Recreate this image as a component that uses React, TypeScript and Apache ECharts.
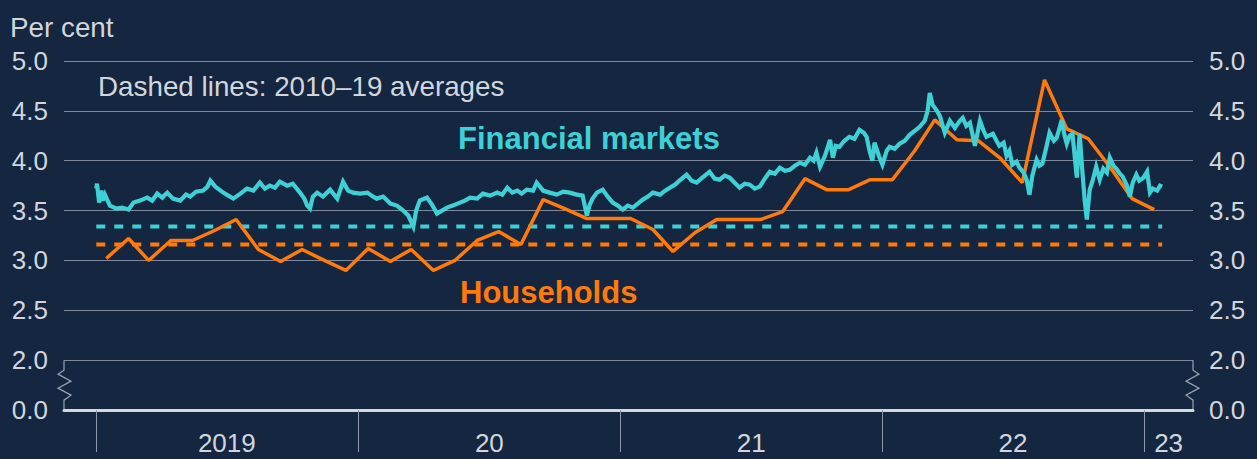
import React, { useEffect, useRef } from "react";
import * as echarts from "echarts";

// ---- Data ----
const financialMarkets: [string, number][] = [
  ["2019-01-01", 3.72], ["2019-01-02", 3.77], ["2019-01-05", 3.58], ["2019-01-08", 3.70], ["2019-01-10", 3.60],
  ["2019-01-13", 3.66], ["2019-01-20", 3.55], ["2019-01-29", 3.52], ["2019-02-06", 3.53], ["2019-02-15", 3.51],
  ["2019-02-22", 3.58], ["2019-03-03", 3.60], ["2019-03-13", 3.63], ["2019-03-20", 3.60], ["2019-03-27", 3.67],
  ["2019-04-03", 3.63], ["2019-04-10", 3.68], ["2019-04-18", 3.62], ["2019-04-28", 3.60], ["2019-05-06", 3.66],
  ["2019-05-12", 3.64], ["2019-05-20", 3.69], ["2019-05-30", 3.70], ["2019-06-05", 3.74], ["2019-06-09", 3.80],
  ["2019-06-16", 3.74], ["2019-06-27", 3.68], ["2019-07-04", 3.65], ["2019-07-11", 3.62], ["2019-07-21", 3.67],
  ["2019-07-30", 3.72], ["2019-08-08", 3.70], ["2019-08-17", 3.78], ["2019-08-24", 3.72], ["2019-08-31", 3.75],
  ["2019-09-07", 3.73], ["2019-09-14", 3.79], ["2019-09-24", 3.75], ["2019-10-02", 3.77], ["2019-10-12", 3.68],
  ["2019-10-18", 3.62], ["2019-10-22", 3.55], ["2019-10-26", 3.52], ["2019-10-30", 3.64], ["2019-11-05", 3.68],
  ["2019-11-13", 3.64], ["2019-11-23", 3.71], ["2019-12-03", 3.62], ["2019-12-11", 3.79], ["2019-12-18", 3.70],
  ["2019-12-25", 3.68],
  ["2020-01-04", 3.67], ["2020-01-14", 3.68], ["2020-01-22", 3.64], ["2020-01-27", 3.62], ["2020-02-05", 3.64],
  ["2020-02-15", 3.57], ["2020-02-24", 3.55], ["2020-03-04", 3.50], ["2020-03-11", 3.45], ["2020-03-18", 3.34],
  ["2020-03-22", 3.50], ["2020-03-27", 3.60], ["2020-04-06", 3.63], ["2020-04-13", 3.56], ["2020-04-20", 3.47],
  ["2020-04-27", 3.50], ["2020-05-04", 3.53], ["2020-05-12", 3.55], ["2020-05-22", 3.58], ["2020-05-29", 3.60],
  ["2020-06-05", 3.63], ["2020-06-15", 3.62], ["2020-06-23", 3.67], ["2020-07-03", 3.65], ["2020-07-13", 3.68],
  ["2020-07-20", 3.66], ["2020-07-27", 3.73], ["2020-08-03", 3.68], ["2020-08-10", 3.70], ["2020-08-16", 3.67],
  ["2020-08-23", 3.71], ["2020-09-01", 3.70], ["2020-09-06", 3.78], ["2020-09-15", 3.70], ["2020-09-24", 3.68],
  ["2020-10-04", 3.66], ["2020-10-13", 3.69], ["2020-10-22", 3.68], ["2020-11-01", 3.66], ["2020-11-09", 3.65],
  ["2020-11-15", 3.45], ["2020-11-19", 3.56], ["2020-11-23", 3.62], ["2020-11-29", 3.68], ["2020-12-07", 3.71],
  ["2020-12-14", 3.64], ["2020-12-21", 3.58], ["2020-12-28", 3.55],
  ["2021-01-04", 3.51], ["2021-01-11", 3.55], ["2021-01-18", 3.53], ["2021-01-25", 3.57], ["2021-02-01", 3.61],
  ["2021-02-08", 3.64], ["2021-02-15", 3.68], ["2021-02-25", 3.66], ["2021-03-04", 3.70], ["2021-03-11", 3.73],
  ["2021-03-18", 3.76], ["2021-03-24", 3.80], ["2021-04-03", 3.86], ["2021-04-10", 3.80], ["2021-04-17", 3.78],
  ["2021-04-25", 3.83], ["2021-05-05", 3.89], ["2021-05-12", 3.82], ["2021-05-19", 3.81], ["2021-05-26", 3.85],
  ["2021-06-02", 3.83], ["2021-06-09", 3.78], ["2021-06-16", 3.73], ["2021-06-23", 3.77], ["2021-06-30", 3.76],
  ["2021-07-07", 3.72], ["2021-07-14", 3.74], ["2021-07-21", 3.82], ["2021-07-28", 3.89], ["2021-08-04", 3.87],
  ["2021-08-11", 3.93], ["2021-08-18", 3.90], ["2021-08-25", 3.91], ["2021-09-01", 3.95], ["2021-09-08", 3.98],
  ["2021-09-15", 3.96], ["2021-09-22", 4.03], ["2021-09-27", 4.00], ["2021-10-01", 4.08], ["2021-10-06", 3.94],
  ["2021-10-13", 4.05], ["2021-10-20", 4.21], ["2021-10-24", 4.03], ["2021-10-28", 4.15], ["2021-11-02", 4.14],
  ["2021-11-09", 4.20], ["2021-11-16", 4.24], ["2021-11-23", 4.22], ["2021-11-30", 4.31], ["2021-12-06", 4.28],
  ["2021-12-10", 4.24], ["2021-12-14", 4.10], ["2021-12-18", 4.00], ["2021-12-21", 4.18], ["2021-12-27", 4.05],
  ["2022-01-01", 3.96], ["2022-01-07", 4.10], ["2022-01-11", 4.14], ["2022-01-18", 4.12], ["2022-01-25", 4.17],
  ["2022-02-01", 4.20], ["2022-02-08", 4.26], ["2022-02-15", 4.30], ["2022-02-22", 4.34], ["2022-03-01", 4.40],
  ["2022-03-05", 4.50], ["2022-03-08", 4.68], ["2022-03-12", 4.56], ["2022-03-18", 4.50], ["2022-03-22", 4.45],
  ["2022-03-29", 4.28], ["2022-04-05", 4.40], ["2022-04-12", 4.33], ["2022-04-19", 4.40], ["2022-04-23", 4.43],
  ["2022-04-28", 4.35], ["2022-05-03", 4.38], ["2022-05-10", 4.15], ["2022-05-17", 4.40], ["2022-05-22", 4.30],
  ["2022-05-26", 4.24], ["2022-06-04", 4.27], ["2022-06-09", 4.20], ["2022-06-13", 4.15], ["2022-06-19", 4.18],
  ["2022-06-23", 4.05], ["2022-06-27", 4.10], ["2022-07-01", 3.96], ["2022-07-07", 3.99], ["2022-07-11", 3.93],
  ["2022-07-17", 3.88], ["2022-07-21", 3.81], ["2022-07-25", 3.66], ["2022-07-29", 3.85], ["2022-08-04", 4.01],
  ["2022-08-08", 3.95], ["2022-08-12", 3.97], ["2022-08-18", 4.15], ["2022-08-22", 4.28], ["2022-08-28", 4.20],
  ["2022-09-01", 4.23], ["2022-09-05", 4.33], ["2022-09-08", 4.41], ["2022-09-12", 4.25], ["2022-09-15", 4.17],
  ["2022-09-19", 4.25], ["2022-09-23", 4.27], ["2022-09-26", 4.05], ["2022-09-29", 3.83], ["2022-10-03", 4.27],
  ["2022-10-07", 3.87], ["2022-10-10", 3.60], ["2022-10-13", 3.41], ["2022-10-17", 3.71], ["2022-10-21", 3.80],
  ["2022-10-26", 3.94], ["2022-10-31", 3.81], ["2022-11-05", 3.92], ["2022-11-10", 3.88], ["2022-11-14", 4.03],
  ["2022-11-19", 3.95], ["2022-11-24", 3.91], ["2022-11-28", 3.87], ["2022-12-02", 3.84], ["2022-12-08", 3.75],
  ["2022-12-12", 3.64], ["2022-12-16", 3.78], ["2022-12-21", 3.86], ["2022-12-25", 3.80], ["2022-12-31", 3.83],
  ["2023-01-05", 3.89], ["2023-01-09", 3.68], ["2023-01-13", 3.72], ["2023-01-19", 3.70], ["2023-01-23", 3.75],
  ["2023-01-26", 3.74],
];

const householdMonths: string[] = [
  "2019-01", "2019-02", "2019-03", "2019-04", "2019-05", "2019-06", "2019-07", "2019-08", "2019-09", "2019-10", "2019-11", "2019-12",
  "2020-01", "2020-02", "2020-03", "2020-04", "2020-05", "2020-06", "2020-07", "2020-08", "2020-09", "2020-10", "2020-11", "2020-12",
  "2021-01", "2021-02", "2021-03", "2021-04", "2021-05", "2021-06", "2021-07", "2021-08", "2021-09", "2021-10", "2021-11", "2021-12",
  "2022-01", "2022-02", "2022-03", "2022-04", "2022-05", "2022-06", "2022-07", "2022-08", "2022-09", "2022-10", "2022-11", "2022-12",
  "2023-01",
];
const householdValues: number[] = [
  3.02, 3.22, 3.0, 3.2, 3.2, 3.3, 3.41, 3.11, 2.99, 3.11, 3.0, 2.9,
  3.12, 2.99, 3.11, 2.9, 3.0, 3.2, 3.29, 3.16, 3.61, 3.52, 3.42, 3.42,
  3.42, 3.31, 3.09, 3.28, 3.41, 3.41, 3.41, 3.49, 3.82, 3.71, 3.71, 3.81,
  3.81, 4.1, 4.41, 4.21, 4.2, 4.02, 3.78, 4.81, 4.32, 4.22, 3.93, 3.62,
  3.51,
];

const averagesSpan: string[] = ["2019-01-01", "2023-01-26"];
const financialAverage = 3.34;
const householdAverage = 3.16;

const xRange: string[] = ["2018-11-17", "2023-03-10"];
const yearTicks: string[] = ["2019-01-01", "2020-01-01", "2021-01-01", "2022-01-01", "2023-01-01"];
const yearLabelPositions: string[] = ["2019-07-02", "2020-07-02", "2021-07-02", "2022-07-02", "2023-02-04"];
const yearLabels: string[] = ["2019", "20", "21", "22", "23"];

const yMin = 1.5; // drawn as the broken-axis "0.0"
const yMax = 5.0;
const yInterval = 0.5;

// ---- Styles ----
const BG = "#142640";
const CYAN = "#3fd0d6";
const ORANGE = "#ff7a0a";
const TEXT = "#d2d6dc";
const GRID = "#7f8a9c";
const FONT = '"Liberation Sans", Arial, sans-serif';

const t = (s: string) => Date.parse(s + "T00:00:00Z");

export default function App() {
  const ref = useRef<HTMLDivElement>(null);

  useEffect(() => {
    if (!ref.current) return;
    const chart = echarts.init(ref.current, null, { renderer: "svg" });

    const yLabel = (v: number) => (Math.abs(v - yMin) < 1e-6 ? "0.0" : v.toFixed(1));
    const yAxisBase = {
      type: "value",
      min: yMin,
      max: yMax,
      interval: yInterval,
      axisLine: { show: false },
      axisTick: { show: false },
      axisLabel: { color: TEXT, fontSize: 26, fontFamily: FONT, margin: 16, formatter: yLabel },
    };

    const option: any = {
      animation: false,
      backgroundColor: BG,
      grid: { left: 64, right: 64, top: 61, bottom: 49, containLabel: false },
      xAxis: {
        type: "value",
        min: t(xRange[0]),
        max: t(xRange[1]),
        splitLine: { show: false },
        axisLine: { show: true, lineStyle: { color: "#d4d8de", width: 3 } },
        axisTick: {
          show: true,
          customValues: yearTicks.map(t),
          length: 42,
          lineStyle: { color: "#8d97a8", width: 1 },
        },
        axisLabel: {
          customValues: yearLabelPositions.map(t),
          color: TEXT,
          fontSize: 26,
          fontFamily: FONT,
          margin: 20,
          formatter: (v: number) => {
            const i = yearLabelPositions.map(t).findIndex((p) => Math.abs(p - v) < 1000);
            return i >= 0 ? yearLabels[i] : "";
          },
        },
      },
      yAxis: [
        { ...yAxisBase, position: "left", splitLine: { show: true, lineStyle: { color: GRID, width: 1 } } },
        { ...yAxisBase, position: "right", splitLine: { show: false } },
      ],
      series: [
        {
          type: "line",
          data: averagesSpan.map((d) => [t(d), financialAverage]),
          symbol: "none",
          lineStyle: { color: CYAN, width: 4, type: [9, 9] },
          z: 2,
        },
        {
          type: "line",
          data: averagesSpan.map((d) => [t(d), householdAverage]),
          symbol: "none",
          lineStyle: { color: ORANGE, width: 4, type: [9, 9] },
          z: 2,
        },
        {
          type: "line",
          data: householdMonths.map((m, i) => [t(m + "-15"), householdValues[i]]),
          symbol: "none",
          lineStyle: { color: ORANGE, width: 3.5 },
          z: 3,
        },
        {
          type: "line",
          data: financialMarkets.map(([d, v]) => [t(d), v]),
          symbol: "none",
          lineStyle: { color: CYAN, width: 4.2, join: "miter" },
          z: 4,
        },
      ],
    };
    chart.setOption(option);

    const [xL, y2] = chart.convertToPixel({ gridIndex: 0 }, [t(xRange[0]), 2.0]) as number[];
    const [xR, y0] = chart.convertToPixel({ gridIndex: 0 }, [t(xRange[1]), yMin]) as number[];
    const zig = (x: number, dir: number) => [
      [x, y2],
      [x, y2 + 10],
      [x - 6 * dir, y2 + 14],
      [x + 7 * dir, y2 + 21],
      [x - 6 * dir, y2 + 28],
      [x + 7 * dir, y2 + 35],
      [x, y2 + 40],
      [x, y0],
    ];
    const textStyle = (text: string, x: number, y: number, size: number, color: string, weight: string) => ({
      type: "text",
      x,
      y,
      silent: true,
      style: {
        text,
        fill: color,
        font: `${weight} ${size}px ${FONT}`,
        align: "left",
        verticalAlign: "middle",
        textAlign: "left",
        textVerticalAlign: "middle",
      },
    });

    chart.setOption({
      graphic: [
        { type: "polyline", shape: { points: zig(xL, 1) }, style: { stroke: "#9aa3b2", lineWidth: 1.2, fill: "none" }, silent: true },
        { type: "polyline", shape: { points: zig(xR, -1) }, style: { stroke: "#9aa3b2", lineWidth: 1.2, fill: "none" }, silent: true },
        textStyle("Per cent", 10, 27, 27.8, TEXT, "normal"),
        textStyle("Dashed lines: 2010–19 averages", 98, 86, 27.8, TEXT, "normal"),
        textStyle("Financial markets", 458, 138, 31, CYAN, "bold"),
        textStyle("Households", 460, 292, 31, ORANGE, "bold"),
      ],
    });

    return () => chart.dispose();
  }, []);

  return (
    <div
      ref={ref}
      style={{ position: "absolute", left: 0, top: 0, width: 1257, height: 459, background: BG }}
    />
  );
}
